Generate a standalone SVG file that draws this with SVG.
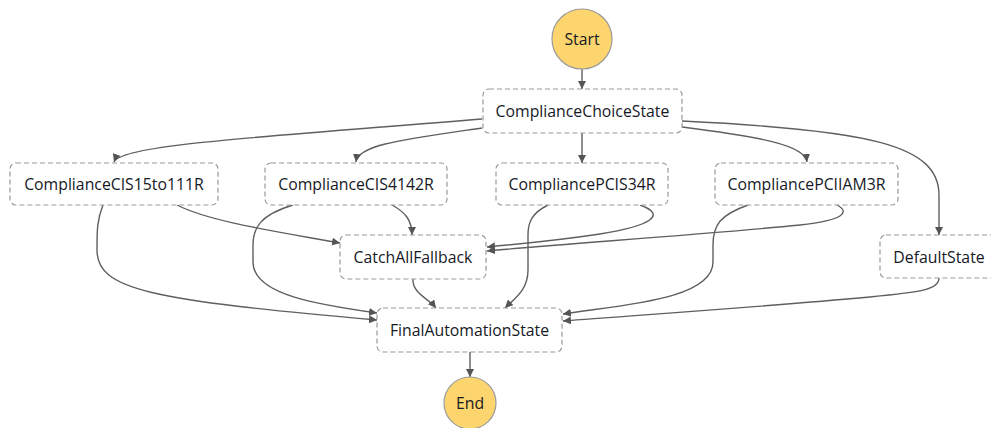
<svg xmlns="http://www.w3.org/2000/svg" width="991" height="428" viewBox="0 0 991 428">
  <style>
    .state rect { fill: #ffffff; stroke: #9a9a9a; stroke-width: 1.2; stroke-dasharray: 5 3; }
    .term circle { fill: #fdd56f; stroke: #9a9a9a; stroke-width: 1.2; }
    text { font-family: "Open Sans", "Liberation Sans", sans-serif; font-size: 15.8px; fill: #16191f; text-anchor: middle; dominant-baseline: central; }
    #edges path { fill: none; stroke: #5f5f5f; stroke-width: 1.4; marker-end: url(#arrow); }
  </style>
  <defs>
    <marker id="arrow" viewBox="0 0 10 10" refX="10" refY="5" markerWidth="8" markerHeight="8" markerUnits="userSpaceOnUse" orient="auto">
      <path d="M0,0 L10,5 L0,10 z" fill="#555555"/>
    </marker>
  </defs>
  <rect width="991" height="428" fill="#ffffff"/>

  <g id="edges">
    <path d="M582,69 L582,89"/>
    <path d="M482,119 C 250,138 120,145 114,162"/>
    <path d="M482,128 C 400,140 358,145 356,162"/>
    <path d="M582,133 L582,163"/>
    <path d="M682,127 C 760,137 805,145 807,162"/>
    <path d="M682,121 C 870,130 939,145 939,195 L939,235"/>
    <path d="M177,205 C 210,222 280,232 340,243"/>
    <path d="M103,205 C 97,220 97,230 97,250 C 97,290 150,300 377,320"/>
    <path d="M392,205 C 405,212 412,220 412,235"/>
    <path d="M293,205 C 260,215 253,228 253,245 L253,262 C 253,295 320,305 377,313"/>
    <path d="M640,205 C 668,215 650,226 600,234 C 560,240 520,244 487,247"/>
    <path d="M548,205 C 532,213 528,222 528,235 L528,270 C 528,290 515,298 505,308"/>
    <path d="M837,205 C 850,212 845,220 800,225 C 700,235 560,244 487,251"/>
    <path d="M748,205 C 720,215 713,225 713,245 L713,262 C 713,300 620,305 563,314"/>
    <path d="M413,279 C 412,293 428,298 436,308"/>
    <path d="M939,278 C 939,290 920,292 870,297 C 760,307 640,315 563,321"/>
    <path d="M470,352 L470,377"/>
  </g>

  <g id="start" class="term">
    <circle cx="582" cy="39" r="30"/>
    <text x="582" y="39">Start</text>
  </g>
  <g id="compliance-choice-state" class="state">
    <rect x="483" y="89" width="199" height="44" rx="6"/>
    <text x="582.5" y="111">ComplianceChoiceState</text>
  </g>
  <g id="compliance-cis15to111r" class="state">
    <rect x="10" y="163" width="208" height="42" rx="6"/>
    <text x="114" y="184">ComplianceCIS15to111R</text>
  </g>
  <g id="compliance-cis4142r" class="state">
    <rect x="265" y="163" width="182" height="42" rx="6"/>
    <text x="356" y="184">ComplianceCIS4142R</text>
  </g>
  <g id="compliance-pcis34r" class="state">
    <rect x="496" y="163" width="172" height="42" rx="6"/>
    <text x="582" y="184">CompliancePCIS34R</text>
  </g>
  <g id="compliance-pciiam3r" class="state">
    <rect x="715" y="163" width="183" height="42" rx="6"/>
    <text x="806.5" y="184">CompliancePCIIAM3R</text>
  </g>
  <g id="catch-all-fallback" class="state">
    <rect x="340" y="235" width="146" height="44" rx="6"/>
    <text x="413" y="257">CatchAllFallback</text>
  </g>
  <g id="default-state" class="state">
    <rect x="880" y="235" width="118" height="43" rx="6"/>
    <text x="939" y="256.5">DefaultState</text>
  </g>
  <g id="final-automation-state" class="state">
    <rect x="377" y="308" width="185" height="44" rx="6"/>
    <text x="469.5" y="330">FinalAutomationState</text>
  </g>
  <g id="end" class="term">
    <circle cx="470" cy="403" r="26"/>
    <text x="470" y="403">End</text>
  </g>
</svg>
